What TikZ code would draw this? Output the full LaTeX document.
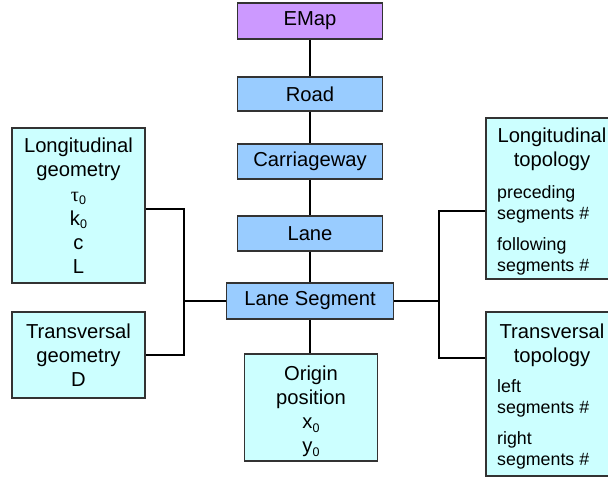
\documentclass[tikz,border=0pt]{standalone}
\usepackage{fontspec}
\setmainfont{Liberation Sans}
\newfontfamily\greekf{Liberation Serif}
\definecolor{emapc}{HTML}{CC99FF}
\definecolor{bluec}{HTML}{99CCFF}
\definecolor{cyanc}{HTML}{CCFFFF}
\definecolor{edgec}{HTML}{333333}
\newcommand\bigf{\fontsize{20.2}{24}\selectfont}
\newcommand\smf{\fontsize{17.8}{20.5}\selectfont}
\newcommand\subz[1]{\raisebox{-3.3pt}{\fontsize{12.5}{13}\selectfont #1}}
\begin{document}
\begin{tikzpicture}[x=1pt,y=-1pt,
  box/.style={draw=edgec, line width=1.4pt, rectangle, inner sep=0pt, font=\bigf, align=center},
  conn/.style={line width=1.3pt, draw=black},
  hdr/.style={font=\bigf, align=center, anchor=base, inner sep=0pt},
  smtext/.style={font=\smf, align=left, anchor=base west, inner sep=0pt}]
\useasboundingbox (0,0) rectangle (608,477);
\clip (0,0) rectangle (608,477);
% main chain
\node[box, fill=emapc, minimum width=145pt, minimum height=36pt] (emap) at (310,21) {EMap};
\node[box, fill=bluec, minimum width=145pt, minimum height=34pt] (road) at (310,94) {Road};
\node[box, fill=bluec, minimum width=145pt, minimum height=35pt] (cw) at (310,161.5) {Carriageway};
\node[box, fill=bluec, minimum width=145pt, minimum height=35pt] (lane) at (310,233.5) {Lane};
\node[box, fill=bluec, minimum width=167pt, minimum height=36pt] (ls) at (310,301) {Lane Segment};
\node[box, fill=cyanc, minimum width=133pt, minimum height=107pt] (origin) at (311,407.5) {\rule{0pt}{22.6pt}Origin\\position\\x\subz{0}\\y\subz{0}};
% left boxes
\node[box, fill=cyanc, minimum width=133pt, minimum height=155pt] (lg) at (78.5,205.5) {Longitudinal\\geometry\\[1.5pt]{\greekf τ}\subz{0}\\k\subz{0}\\c\\L};
\node[box, fill=cyanc, minimum width=133pt, minimum height=86pt] (tg) at (78.5,355) {Transversal\\geometry\\D};
% right boxes
\node[box, fill=cyanc, minimum width=132pt, minimum height=161pt] (lt) at (552,198.5) {};
\node[box, fill=cyanc, minimum width=132pt, minimum height=164pt] (tt) at (552,394) {};
\node[hdr] (lth) at (552,166) {Longitudinal\\topology};
\node[smtext] (ltp) at (497,219) {preceding\\segments \#};
\node[smtext] (ltf) at (497,271) {following\\segments \#};
\node[hdr] (tth) at (552,362) {Transversal\\topology};
\node[smtext] (ttl) at (497,413) {left\\segments \#};
\node[smtext] (ttr) at (497,465) {right\\segments \#};
% connectors
\draw[conn] (emap.south) -- (road.north);
\draw[conn] (road.south) -- (cw.north);
\draw[conn] (cw.south) -- (lane.north);
\draw[conn] (lane.south) -- (ls.north);
\draw[conn] (ls.south) -- (ls.south |- origin.north);
\coordinate (jl) at (184,301);
\coordinate (jr) at (439,301);
\draw[conn] ([yshift=-3.5pt]lg.east) -| (jl) |- (tg.east);
\draw[conn] (jl) -- (ls.west);
\draw[conn] ([yshift=-12.5pt]lt.west) -| (jr) |- ([yshift=36pt]tt.west);
\draw[conn] (jr) -- (ls.east);
\end{tikzpicture}
\end{document}
